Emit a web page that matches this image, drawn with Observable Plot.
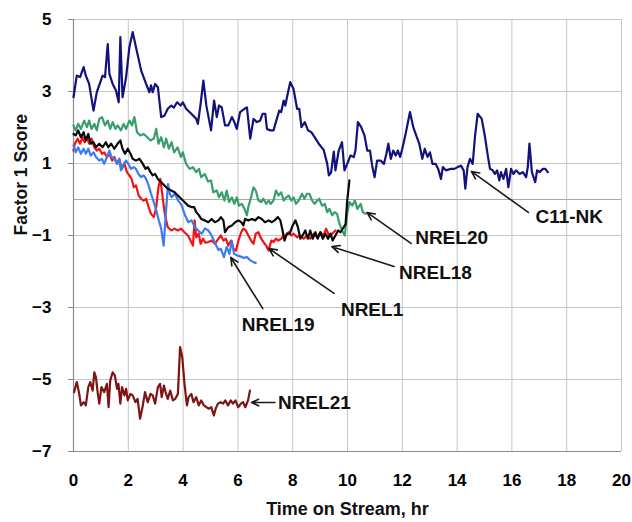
<!DOCTYPE html>
<html>
<head>
<meta charset="utf-8">
<script src="https://cdn.jsdelivr.net/npm/d3@7"></script>
<script src="https://cdn.jsdelivr.net/npm/@observablehq/plot@0.6"></script>
<style>
  html, body { margin: 0; padding: 0; background: #fff; }
  #chart svg { display: block; }
</style>
</head>
<body>
<div id="chart"></div>
<script>
// ---- Data ----
const xTicks = [0, 2, 4, 6, 8, 10, 12, 14, 16, 18, 20];
const yTicks = [5, 3, 1, -1, -3, -5, -7];
const yGrid = [5, 3, 1, 0, -1, -3, -5, -7];

const c11Time = [0,0.12,0.24,0.37,0.45,0.57,0.73,0.85,0.98,1.06,1.15,1.25,1.31,1.43,1.55,1.65,1.71,1.79,1.92,2.04,2.16,2.28,2.47,2.65,2.77,2.83,2.89,2.98,3.08,3.20,3.32,3.44,3.57,3.66,3.78,3.91,3.99,4.11,4.30,4.48,4.54,4.64,4.74,4.85,5.02,5.13,5.23,5.31,5.41,5.53,5.65,5.78,5.87,5.96,6.08,6.24,6.33,6.45,6.57,6.69,6.81,6.90,7.00,7.06,7.18,7.30,7.42,7.51,7.58,7.67,7.73,7.83,7.91,8.03,8.16,8.24,8.32,8.44,8.56,8.68,8.80,8.95,9.13,9.26,9.32,9.40,9.50,9.56,9.68,9.80,9.89,9.99,10.11,10.23,10.29,10.38,10.50,10.62,10.72,10.82,10.90,10.99,11.08,11.21,11.33,11.42,11.49,11.58,11.67,11.76,11.84,11.92,12.00,12.12,12.28,12.40,12.53,12.62,12.73,12.82,12.92,13.01,13.10,13.22,13.31,13.41,13.48,13.59,13.77,13.90,14.02,14.14,14.24,14.30,14.38,14.47,14.57,14.65,14.75,14.90,15.02,15.12,15.20,15.30,15.38,15.46,15.54,15.60,15.69,15.79,15.87,15.97,16.06,16.15,16.28,16.40,16.52,16.58,16.64,16.73,16.85,16.92,17.01,17.13,17.22,17.31];
const c11Score = [2.84,3.44,3.40,3.68,3.44,3.21,2.47,2.98,3.26,3.44,3.40,4.32,3.49,3.21,3.03,2.70,4.51,2.84,3.40,4.23,4.65,4.23,3.58,3.21,2.98,3.17,2.98,3.21,3.12,2.29,2.33,2.52,2.61,2.55,2.70,2.61,2.70,2.52,2.38,2.24,2.10,2.66,3.30,2.60,1.92,2.75,2.29,2.61,2.56,2.06,2.06,2.29,2.15,1.96,2.43,2.52,2.56,1.69,2.24,2.15,2.19,2.38,2.38,1.96,1.92,1.92,2.24,2.47,2.43,2.75,2.61,2.98,3.26,3.07,2.52,2.52,2.01,2.15,1.92,1.87,1.73,1.55,1.38,0.99,0.67,0.75,1.33,0.81,1.36,1.59,0.81,0.99,1.22,1.18,1.36,2.15,2.01,1.78,1.36,1.36,0.94,0.62,1.08,1.08,0.99,1.27,1.55,1.13,1.36,1.22,1.36,1.18,1.41,1.82,2.43,2.01,1.73,1.55,1.13,1.41,1.18,1.31,0.99,0.99,0.85,0.57,0.90,0.81,0.85,0.85,0.90,0.94,0.81,0.30,0.90,1.13,0.99,1.73,2.38,2.24,1.73,1.22,0.85,0.81,0.71,0.81,0.53,0.76,0.57,0.85,0.34,0.85,0.71,0.81,0.71,0.76,0.62,0.90,1.55,0.76,0.48,0.81,0.76,0.85,0.85,0.76];

const nrel20Time = [0,0.08,0.17,0.27,0.39,0.49,0.57,0.66,0.76,0.85,0.94,1.04,1.15,1.25,1.34,1.43,1.53,1.61,1.73,1.83,1.92,2.04,2.14,2.22,2.32,2.44,2.56,2.69,2.81,2.93,3.02,3.10,3.20,3.30,3.38,3.48,3.58,3.67,3.80,3.92,3.99,4.11,4.24,4.36,4.48,4.58,4.66,4.79,4.91,5.02,5.10,5.23,5.31,5.41,5.51,5.59,5.68,5.78,5.87,5.96,6.04,6.14,6.24,6.33,6.38,6.48,6.57,6.65,6.75,6.85,6.93,7.03,7.12,7.20,7.30,7.39,7.48,7.58,7.67,7.77,7.85,7.95,8.03,8.12,8.22,8.34,8.43,8.52,8.61,8.71,8.80,8.89,8.97,9.07,9.17,9.26,9.34,9.44,9.53,9.62,9.71,9.80,9.90,9.99,10.07,10.17,10.27,10.36,10.48,10.56,10.66];
const nrel20Score = [2.06,1.92,2.10,1.96,2.19,2.01,2.19,1.96,2.10,1.92,2.24,2.29,2.06,2.19,1.96,2.15,1.96,2.06,1.92,2.10,1.96,2.19,2.06,2.29,1.87,1.78,1.82,1.73,1.64,1.69,1.96,1.55,1.73,1.45,1.69,1.41,1.59,1.31,1.45,1.18,1.31,0.99,0.85,0.90,0.76,0.85,0.62,0.71,0.50,0.53,0.20,0.25,0.06,0.20,-0.03,0.25,-0.07,0.06,-0.12,0.06,-0.17,-0.12,-0.26,-0.44,-0.21,0.06,0.34,0.25,-0.03,-0.07,0.02,-0.12,-0.03,-0.12,-0.03,0.25,0.11,0.20,-0.03,0.06,0.11,-0.03,0.06,-0.12,-0.03,0.16,0.02,0.16,0.16,-0.03,-0.12,-0.03,0.02,-0.17,-0.12,-0.35,-0.26,-0.44,-0.35,-0.40,-0.68,-0.86,-1.00,-0.40,-0.07,-0.17,-0.03,-0.26,-0.12,-0.35,-0.40];

const nrel18Time = [0,0.08,0.17,0.27,0.37,0.45,0.54,0.63,0.73,0.82,0.94,1.06,1.18,1.27,1.37,1.49,1.61,1.71,1.79,1.88,1.98,2.08,2.16,2.28,2.41,2.53,2.63,2.71,2.81,2.89,2.98,3.08,3.20,3.32,3.44,3.57,3.69,3.81,3.93,4.05,4.18,4.30,4.40,4.48,4.58,4.66,4.79,4.92,5.04,5.16,5.29,5.38,5.47,5.53,5.65,5.78,5.90,6.02,6.12,6.20,6.26,6.38,6.51,6.63,6.75,6.87,6.99,7.12,7.24,7.34,7.46,7.55,7.63,7.70,7.79,7.89,8.00,8.10,8.19,8.28,8.36,8.46,8.55,8.64,8.73,8.83,8.91,9.01,9.10,9.19,9.29,9.38,9.46,9.56,9.66,9.74,9.83,9.93,9.99,10.07];
const nrel18Score = [1.82,1.78,1.92,1.73,1.87,1.64,1.82,1.55,1.59,1.45,1.55,1.45,1.59,1.45,1.55,1.41,1.55,1.64,1.41,1.27,1.41,1.27,1.13,1.08,1.13,0.99,0.85,0.90,0.76,0.67,0.71,0.57,0.48,0.39,0.30,0.25,0.20,0.11,0.02,-0.07,-0.17,-0.21,-0.21,-0.35,-0.44,-0.54,-0.58,-0.63,-0.54,-0.63,-0.58,-0.49,-0.58,-0.91,-0.77,-0.72,-0.63,-0.58,-0.63,-0.72,-0.54,-0.58,-0.54,-0.58,-0.49,-0.54,-0.63,-0.58,-0.63,-0.58,-0.49,-0.58,-0.86,-1.14,-0.95,-0.95,-0.72,-0.58,-0.77,-1.09,-1.00,-0.86,-1.09,-0.86,-1.09,-0.91,-1.09,-0.91,-1.09,-0.95,-1.09,-0.95,-1.14,-1.00,-0.86,-0.91,-0.81,-0.68,-0.03,0.53];

const nrel1Time = [0,0.05,0.15,0.24,0.33,0.41,0.49,0.57,0.66,0.76,0.85,0.94,1.04,1.12,1.22,1.31,1.41,1.49,1.59,1.67,1.76,1.86,1.95,2.04,2.12,2.20,2.28,2.38,2.47,2.56,2.65,2.74,2.83,2.93,3.02,3.10,3.17,3.26,3.34,3.44,3.57,3.69,3.81,3.93,4.05,4.18,4.27,4.36,4.42,4.48,4.57,4.64,4.73,4.81,4.92,5.04,5.16,5.29,5.38,5.47,5.56,5.65,5.75,5.84,5.93,6.02,6.12,6.20,6.29,6.38,6.48,6.57,6.65,6.75,6.85,6.93,7.03,7.12,7.22,7.30,7.39,7.48,7.58,7.67,7.75,7.85,7.95,8.03,8.16,8.28,8.40,8.52,8.64,8.77,8.89,9.01,9.13,9.22,9.32,9.44,9.56];
const nrel1Score = [1.36,1.55,1.69,1.55,1.73,1.59,1.73,1.55,1.69,1.45,1.36,1.41,1.27,1.31,1.18,1.27,1.08,1.18,0.99,1.13,0.85,0.99,0.76,0.67,0.57,0.34,0.39,0.11,0.02,-0.03,0.02,-0.21,-0.40,-0.49,-0.21,0.34,0.57,0.02,-0.44,-0.77,-0.86,-0.81,-0.86,-0.81,-0.91,-1.00,-1.14,-1.28,-0.58,-1.05,-0.95,-1.23,-1.09,-1.20,-1.18,-1.14,-1.23,-1.09,-1.00,-1.14,-1.09,-1.28,-1.14,-1.37,-1.42,-1.14,-0.91,-0.81,-0.86,-1.00,-1.14,-1.23,-0.95,-0.91,-1.09,-1.18,-1.28,-1.42,-1.14,-1.18,-1.09,-1.14,-1.09,-1.00,-1.00,-0.91,-1.00,-0.95,-1.05,-1.00,-1.09,-1.00,-1.09,-0.95,-1.05,-0.91,-1.00,-0.81,-1.00,-0.95,-0.86];

const nrel19Time = [0,0.08,0.17,0.27,0.37,0.45,0.54,0.63,0.73,0.82,0.94,1.04,1.12,1.22,1.31,1.39,1.49,1.59,1.67,1.73,1.83,1.92,2.00,2.10,2.20,2.28,2.37,2.47,2.56,2.65,2.74,2.83,2.93,3.02,3.10,3.20,3.29,3.37,3.45,3.52,3.58,3.70,3.82,3.94,4.07,4.19,4.31,4.43,4.55,4.68,4.80,4.92,5.04,5.16,5.29,5.38,5.49,5.59,5.69,5.78,5.86,5.96,6.08,6.20,6.33,6.45,6.57,6.65];
const nrel19Score = [1.50,1.31,1.45,1.27,1.41,1.27,1.41,1.22,1.31,1.18,1.08,1.13,0.99,1.18,1.36,1.18,1.13,0.99,1.13,0.81,0.99,1.08,0.99,0.85,0.90,0.85,0.71,0.62,0.67,0.57,0.39,0.16,-0.07,-0.30,-0.54,-0.81,-1.28,-0.40,0.43,0.15,0.06,0.16,-0.03,-0.15,-0.44,-0.63,-0.58,-0.77,-0.86,-0.95,-0.80,-0.86,-1.00,-1.20,-1.40,-1.37,-1.60,-1.32,-1.51,-1.15,-1.51,-1.55,-1.58,-1.62,-1.60,-1.69,-1.74,-1.76];

const nrel21Time = [0.02,0.12,0.21,0.27,0.37,0.45,0.54,0.61,0.70,0.76,0.82,0.88,0.94,1.02,1.12,1.22,1.28,1.34,1.43,1.51,1.59,1.64,1.71,1.77,1.86,1.92,1.98,2.08,2.16,2.26,2.34,2.43,2.53,2.61,2.71,2.81,2.89,2.98,3.08,3.16,3.22,3.30,3.36,3.44,3.53,3.63,3.71,3.81,3.89,3.97,4.05,4.14,4.20,4.30,4.38,4.48,4.57,4.66,4.76,4.85,4.95,5.03,5.12,5.19,5.27,5.37,5.46,5.54,5.64,5.74,5.82,5.91,6.01,6.11,6.19,6.27,6.37,6.44];
const nrel21Score = [-5.35,-5.07,-5.40,-5.72,-5.63,-5.72,-5.21,-5.07,-5.31,-4.80,-4.94,-5.35,-5.67,-5.21,-5.35,-5.12,-5.77,-5.03,-4.80,-4.89,-5.26,-5.12,-5.67,-5.21,-5.44,-5.26,-5.58,-5.40,-5.44,-5.63,-5.54,-6.09,-5.72,-5.35,-5.63,-5.40,-5.44,-5.67,-5.21,-5.12,-5.49,-5.17,-5.35,-5.54,-5.31,-5.58,-5.54,-5.40,-4.10,-4.38,-5.12,-5.72,-5.49,-5.40,-5.63,-5.49,-5.72,-5.58,-5.72,-5.77,-5.81,-5.77,-6.00,-5.81,-5.67,-5.63,-5.67,-5.58,-5.72,-5.58,-5.67,-5.58,-5.77,-5.67,-5.63,-5.77,-5.58,-5.31];

// Annotation labels: name, text position, arrow tail and arrow head (data units)
const labelNames = ["C11-NK", "NREL20", "NREL18", "NREL1", "NREL19", "NREL21"];
const labelX = [16.86, 12.47, 11.88, 9.76, 6.14, 7.46];
const labelY = [-0.47, -1.08, -2.03, -3.06, -3.47, -5.64];
const arrowFromX = [16.60, 12.32, 11.70, 9.51, 6.91, 7.35];
const arrowFromY = [-0.36, -1.22, -1.86, -2.61, -3.03, -5.64];
const arrowToX = [14.52, 10.71, 9.43, 7.13, 5.74, 6.50];
const arrowToY = [0.78, -0.36, -1.31, -1.36, -1.61, -5.64];

// ---- Build tables for the library ----
const toRows = (t, v) => t.map((d, i) => ({t: d, v: v[i]}));
const series = [
  {rows: toRows(c11Time, c11Score), color: "#12127e"},
  {rows: toRows(nrel20Time, nrel20Score), color: "#3a9e6c"},
  {rows: toRows(nrel1Time, nrel1Score), color: "#f21414"},
  {rows: toRows(nrel19Time, nrel19Score), color: "#3d7cf0"},
  {rows: toRows(nrel18Time, nrel18Score), color: "#0a0a0a"},
  {rows: toRows(nrel21Time, nrel21Score), color: "#7f1414"}
];
const labels = labelNames.map((n, i) => ({
  name: n, x: labelX[i], y: labelY[i],
  x1: arrowFromX[i], y1: arrowFromY[i], x2: arrowToX[i], y2: arrowToY[i]
}));

const chart = Plot.plot({
  width: 632,
  height: 522,
  marginLeft: 73,
  marginRight: 11,
  marginTop: 19,
  marginBottom: 71,
  x: {domain: [0, 20]},
  y: {domain: [-7, 5]},
  style: {fontFamily: "'Liberation Sans', Arial, sans-serif", background: "#fff", color: "#000"},
  marks: [
    Plot.ruleY(yGrid, {stroke: "#c6c6c6", strokeWidth: 1}),
    Plot.ruleX(xTicks.slice(1), {stroke: "#c6c6c6", strokeWidth: 1}),
    Plot.ruleY([0], {stroke: "#a8a8a8", strokeWidth: 1}),
    Plot.axisY({ticks: yTicks, tickSize: 5, tickPadding: 17, fontSize: 17, fontWeight: "bold",
      label: null, stroke: "#8a8a8a", fill: "#000"}),
    Plot.axisX({ticks: xTicks, tickSize: 0, tickPadding: 22, fontSize: 17, fontWeight: "bold",
      label: null, fill: "#000"}),
    Plot.ruleX([0], {stroke: "#8a8a8a", strokeWidth: 1.2}),
    Plot.ruleY([-7], {stroke: "#8a8a8a", strokeWidth: 1.2}),
    ...series.map(s => Plot.line(s.rows, {x: "t", y: "v", stroke: s.color, strokeWidth: 2.2,
      strokeLinejoin: "round", strokeLinecap: "round"})),
    Plot.arrow(labels, {x1: "x1", y1: "y1", x2: "x2", y2: "y2", stroke: "#1a1a1a",
      strokeWidth: 1.6, headLength: 8, headAngle: 50}),
    Plot.text(labels, {x: "x", y: "y", text: "name", textAnchor: "start", fontSize: 19,
      fontWeight: "bold", fill: "#111"}),
    Plot.text(["Time on Stream, hr"], {frameAnchor: "bottom", dy: 63, fontSize: 18,
      fontWeight: "bold", fill: "#111"}),
    Plot.text(["Factor 1 Score"], {frameAnchor: "left", dx: -52, rotate: -90, fontSize: 17.5,
      fontWeight: "bold", fill: "#111"})
  ]
});
document.getElementById("chart").appendChild(chart);
</script>
</body>
</html>
